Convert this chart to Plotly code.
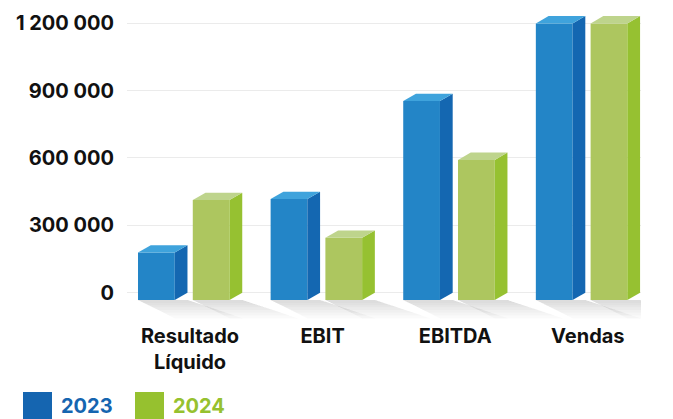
import plotly.graph_objects as go

# ---- data ----
categories = ["Resultado<br>Líquido", "EBIT", "EBITDA", "Vendas"]
series_names = ["2023", "2024"]
values_2023 = [211000, 450000, 886000, 1232000]
values_2024 = [445000, 277000, 624000, 1232000]
y_tickvals = [0, 300000, 600000, 900000, 1200000]
y_ticktext = ["0", "300 000", "600 000", "900 000", "1 200 000"]

# ---- style ----
W, H = 673, 419
ML, MR, MT, MB = 127, 32, 10, 97
XR = [-0.475, 3.401]
YR = [-130600, 1259200]
FONT = "Inter, Roboto, 'Liberation Sans', sans-serif"

colors = {
    "2023": dict(front="#2385C7", side="#1467B1", top="#3FA3DC", legend="#1565B0"),
    "2024": dict(front="#ADC65F", side="#96C131", top="#BED48C", legend="#96C12F"),
}
BW = 0.277      # front width (x units)
GAP = 0.136     # gap between fronts
DX = 0.096      # depth in x units
DY = 32500      # depth in y units
START = -0.392  # offset of first bar from category centre

fig = go.Figure()

def poly(xs, ys, color, opacity=1.0):
    fig.add_trace(go.Scatter(
        x=xs + [xs[0]], y=ys + [ys[0]], mode="lines", fill="toself",
        fillcolor=color, line=dict(width=0, color=color), opacity=opacity,
        hoverinfo="skip", showlegend=False))

series = [("2023", values_2023), ("2024", values_2024)]

# shadows
for ci in range(len(categories)):
    for si, (name, vals) in enumerate(series):
        x0 = ci + START + si * (BW + GAP)
        x1 = x0 + BW
        for s in [1.0, 0.85, 0.7, 0.55, 0.4, 0.28, 0.16]:
            poly([x0, x1 + DX, x1 + DX + 0.42 * s, x0 + 0.28 * s],
                 [-DY, -DY, -DY - 82000 * s, -DY - 82000 * s],
                 "rgb(110,110,110)", 0.035)

# bars
for ci in range(len(categories)):
    for si, (name, vals) in enumerate(series):
        v = vals[ci]
        c = colors[name]
        x0 = ci + START + si * (BW + GAP)
        x1 = x0 + BW
        # front
        poly([x0, x1, x1, x0], [-DY, -DY, v - DY, v - DY], c["front"])
        # side
        poly([x1, x1 + DX, x1 + DX, x1], [-DY, 0, v, v - DY], c["side"])
        # top
        poly([x0, x1, x1 + DX, x0 + DX], [v - DY, v - DY, v, v], c["top"])

fig.update_layout(
    width=W, height=H,
    margin=dict(l=ML, r=MR, t=MT, b=MB, pad=0),
    paper_bgcolor="white", plot_bgcolor="white",
    showlegend=False,
    font=dict(family=FONT, color="#111111"),
    xaxis=dict(range=XR, tickvals=list(range(len(categories))), ticktext=categories,
               showgrid=False, zeroline=False, showline=False, ticks="",
               tickfont=dict(size=20, family=FONT, weight=700, color="#111111"),
               ticklabelstandoff=0, fixedrange=True),
    yaxis=dict(range=YR, tickvals=y_tickvals, ticktext=y_ticktext,
               showgrid=True, gridcolor="#EBEBEB", gridwidth=1.2, zeroline=False,
               showline=False, ticks="",
               tickfont=dict(size=20, family=FONT, weight=700, color="#111111"),
               ticklabelstandoff=12, fixedrange=True),
)

# legend drawn manually
def px2paper_x(px):
    return (px - ML) / (W - ML - MR)

def px2paper_y(py):
    return (H - MB - py) / (H - MT - MB)

legend_items = [("2023", 23), ("2024", 135)]
for name, lx in legend_items:
    c = colors[name]
    fig.add_shape(type="rect", xref="paper", yref="paper",
                  x0=px2paper_x(lx), x1=px2paper_x(lx + 29),
                  y0=px2paper_y(420), y1=px2paper_y(392),
                  fillcolor=c["legend"], line=dict(width=0), layer="above")
    fig.add_annotation(xref="paper", yref="paper", x=px2paper_x(lx + 36),
                       y=px2paper_y(406), xanchor="left", yanchor="middle",
                       text=name, showarrow=False,
                       font=dict(size=20, family=FONT, weight=700, color=c["legend"]))

fig.write_html("out.html", config={"displayModeBar": False},
               post_script="document.body.style.margin='0';document.body.style.overflow='hidden';")
